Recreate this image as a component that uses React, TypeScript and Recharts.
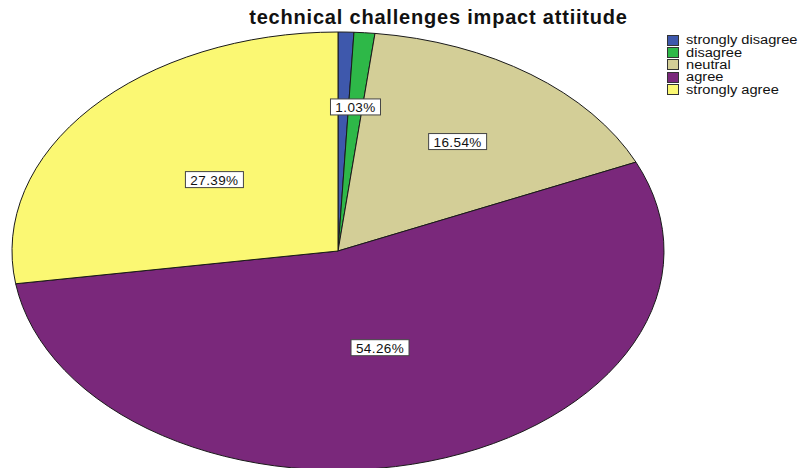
import React from 'react'
import { PieChart, Pie, Cell, Sector, Legend } from 'recharts'

const categories = ['strongly disagree', 'disagree', 'neutral', 'agree', 'strongly agree']
const percents = [0.78, 1.03, 16.54, 54.26, 27.39]
const colors = ['#3e58ac', '#2eb848', '#d3ce97', '#7a287b', '#fbf873']
const shownLabels = [false, true, true, true, true]

const data = categories.map((name, i) => ({ name, value: percents[i] }))

// SPSS draws the pie as an ellipse, so squash the circle vertically
const SQUASH = 219 / 326
const labelDepth = [0.66, 0.66, 0.62, 0.46, 0.5]
const RAD = Math.PI / 180
const FONT = 'Liberation Sans, Arial, sans-serif'

const renderSlice = (props: any) => {
    const { cy } = props
    return (
        <g transform={`translate(0 ${cy}) scale(1 ${SQUASH}) translate(0 ${-cy})`}>
            <Sector {...props} stroke='#1a1a1a' strokeWidth={1} vectorEffect='non-scaling-stroke' />
        </g>
    )
}

const renderLabel = (props: any) => {
    const { cx, cy, midAngle, outerRadius, index, value } = props
    if (!shownLabels[index]) return null
    const f = labelDepth[index]
    const x = cx + outerRadius * f * Math.cos(-midAngle * RAD)
    const y = cy + outerRadius * SQUASH * f * Math.sin(-midAngle * RAD)
    const text = `${Number(value).toFixed(2)}%`
    const w = text.length * 8 + 10
    const h = 16
    return (
        <g>
            <rect x={x - w / 2} y={y - h / 2} width={w} height={h} fill='#fff' stroke='#444' strokeWidth={1} />
            <text x={x} y={y} dy={5} textAnchor='middle' fontSize={13.5} letterSpacing={0.4} fontFamily={FONT} fill='#111'>
                {text}
            </text>
        </g>
    )
}

const LegendBox = () => (
    <div style={{ fontFamily: FONT, fontSize: 12, color: '#111', lineHeight: '12px' }}>
        {categories.map((c, i) => (
            <div key={c} style={{ display: 'flex', alignItems: 'center', height: 12.4 }}>
                <span style={{ width: 10, height: 9, background: colors[i], border: '1px solid #333', marginRight: 7, display: 'inline-block', flexShrink: 0 }} />
                <span style={{ display: 'inline-block', transform: 'scaleX(1.22)', transformOrigin: 'left center', whiteSpace: 'nowrap' }}>{c}</span>
            </div>
        ))}
    </div>
)

export default function App() {
    return (
        <div style={{ position: 'absolute', left: 0, top: 0, width: 807, height: 468, background: '#fff', overflow: 'hidden' }}>
            <div style={{ position: 'absolute', left: 0, width: 877, top: 6, textAlign: 'center', fontFamily: FONT, fontWeight: 'bold', fontSize: 20, letterSpacing: 0.8, color: '#111' }}>
                technical challenges impact attiitude
            </div>
            <PieChart width={807} height={468} margin={{ top: 0, right: 0, bottom: 0, left: 0 }}>
                <Pie
                    data={data}
                    dataKey='value'
                    nameKey='name'
                    cx={338}
                    cy={251}
                    outerRadius={326}
                    startAngle={90}
                    endAngle={-270}
                    isAnimationActive={false}
                    labelLine={false}
                    label={renderLabel}
                    shape={renderSlice}
                    activeShape={renderSlice}
                    inactiveShape={renderSlice}
                >
                    {data.map((d, i) => (
                        <Cell key={d.name} fill={colors[i]} />
                    ))}
                </Pie>
                <Legend content={<LegendBox />} wrapperStyle={{ position: 'absolute', top: 34, left: 667, width: 140 }} />
            </PieChart>
        </div>
    )
}
